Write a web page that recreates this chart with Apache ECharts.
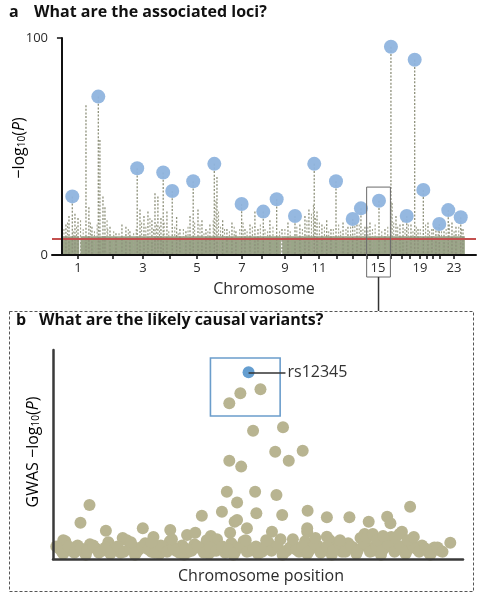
<!DOCTYPE html>
<html>
<head>
<meta charset="utf-8">
<script src="https://cdn.jsdelivr.net/npm/echarts@6/dist/echarts.min.js"></script>
<style>
  html, body { margin: 0; padding: 0; background: #fff; }
  #chart { width: 477px; height: 595px; }
</style>
</head>
<body>
<div id="chart"></div>
<script>
// panel a: chromosome centres along the genome (Mb)
const chrNames = ['1','2','3','4','5','6','7','8','9','10','11','12','13','14','15','16','17','18','19','20','21','22','23']
const chrMid = [121,384,610,814,1017,1168,1356,1507,1680,1801,1937,2072,2193,2298,2381,2479,2562,2622,2698,2751,2796,2849,2954]
const chrLabelled = ['1','3','5','7','9','11','15','19','23']

// lead SNPs (blue circles)
const peakPos = [78,274,567,763,831,989,1148,1354,1517,1618,1756,1901,2065,2191,2253,2389,2479,2598,2658,2723,2843,2911,3005]
const peakLogP = [27,73,40,38,29.5,34,42,23.5,20,25.7,18,42,34,16.6,21.5,25,96,18,90,30,14.3,20.7,17.4]

// other SNP columns above the threshold
const stemPos = [0,30,53,98,121,181,203,226,286,309,324,362,407,452,482,512,
  588,618,648,678,701,723,746,791,864,889,934,965,1025,1055,1085,
  1115,1168,1211,1243,1281,1311,1379,1417,1454,
  1477,1567,1658,1703,1793,1831,1861,1922,1959,1995,2027,
  2118,2155,2223,2283,2321,2434,2487,2517,2547,2570,2630,2683,2758,2788,2818,2879,2939,2969,3022]
const stemLogP = [17,14,18,19,17,69,22,13,53,27,22,13,10,14,13,11,
  21,18,20,16,28.5,27,17,20,17.5,12,11,18,21,16,12,
  14,36,16,12,15,11,12,14,20,
  12,16,12,15,14,18,21,20,14,16,12,
  15,13,14,13,15,12,24,18,14,16,14,12,15,12,13,11,15,13,12]

// low "grass" of sub-peak SNPs
const grassPos = [15,42,85,110,140,160,215,245,265,340,345,390,430,500,540,560,600,632,663,690,712,735,770,805,850,876,915,950,1000,1040,1070,1100,
  1140,1160,1180,1195,1225,1262,1298,1340,1365,1395,1435,1495,1530,1550,1590,1640,1680,1720,1770,1812,1846,1880,1895,1910,1940,1978,2010,2045,
  2085,2100,2140,2175,2207,2240,2268,2305,2340,2360,2410,2455,2500,2530,2585,2610,2645,2670,2700,2740,2770,2800,2835,2860,2895,2920,2955,2990,3010]
const grassLogP = [12,15,11,13,16,12,15,11,14,16,12,11,10,12,10,12,15,13,17,12,14,13,15,11,13,10,12,13,15,14,10,11,
  16,25,20,13,12,11,13,12,15,11,13,14,12,11,13,11,12,11,13,12,16,19,23,17,15,13,11,12,
  14,11,12,13,15,14,12,13,12,14,11,13,15,13,12,14,11,13,12,14,11,12,13,11,12,14,11,13,12]

const threshold = 7.3
const bulkTop = 8.6
const bulkSegments = [[0, 130], [140, 1650], [1660, 3036]]

// panel b: fine-mapping region (relative position, GWAS -log10 P)
const leadSnp = [47.7, 89.3]
const leadName = 'rs12345'
const regionPos = [43,45.7,50.6,48.8,56.1,43,45.9,54.2,57.5,60.9,42.4,44.9,49.3,54.5,41.2,36.3,44.3,47.3,49.6,55.9,62.1,66.8,72.3,77,81.5,82.3,87.1,85.1,
  8.9,6.7,12.9,17,2.5,21.9,28.6,32.7,34.7,43.2,44.9,53.4,62,62,66.8,76,96.9,38.5,40,24.5,
  1.5,3,4.5,6,7.5,9,10.5,12,13.5,15,16.5,18,19.5,21,22.5,24,25.5,27,28.5,30,31.5,33,34.5,36,37.5,39,40.5,42,43.5,45,46.5,48,49.5,51,52.5,54,55.5,57,58.5,60,61.5,63,64.5,66,67.5,69,70.5,72,73.5,75,76.5,78,79.5,81,82.5,84,85.5,87,88.5,90,91.5,93,94.5,
  2.5,8,14,20,26,32,38,44,50,56,62,68,74,80,86,92,
  0.8,2.2,3.8,5.2,6.8,8.3,9.8,11.2,12.8,14.3,15.8,17.3,18.8,20.3,21.8,23.3,24.8,26.3,27.8,29.3,30.8,32.3,33.8,35.3,36.8,38.3,39.8,41.3,42.8,44.3,45.8,47.3,
  48.8,50.3,51.8,53.3,54.8,56.3,57.8,59.3,60.8,62.3,63.8,65.3,66.8,68.3,69.8,71.3,72.8,74.3,75.8,77.3,78.8,80.3,81.8,83.3,84.8,86.3,87.8,89.3,90.8,92.3,93.8,95,
  76.5,78,79,80.5,83.5,84.5,86.5,88,58.5,64,70,52,47,24,29,19]
const regionLogP = [74.5,79.3,81.2,61.4,63,47,44.2,51.3,47,51.8,32.2,27,32.2,30.6,22.6,20.7,17.8,14.7,21.9,21,23.1,20,20,17.8,20.2,17.1,25,13,
  25.8,17.4,13.5,10,9,14.7,13.9,11.5,12.6,12.6,18.7,13,13,14.7,10.7,12,7.8,11,9.5,10.5,
  5,8.5,4,6.5,3.5,7,5,4,8,5.5,3,9,6,4.5,7.5,3.5,6,5,8.5,4,6.5,3.5,7,5,9,4,6.5,3,7.5,5,8.5,4,6,3.5,8,5.5,9.5,4,7,3.5,8.5,5,6.5,4,9,5.5,3.5,7.5,5,10,6,4,8.5,5.5,10.5,6,4,8,5,6.5,3.5,5.5,4,
  2.5,2,2.5,2,2.5,2,2.5,2,2.5,2,2.5,2,2.5,2,2.5,2,
  6,3.5,6,3,5,4,6.5,3,5.5,4,6,3.5,5,3,6,4.5,3,6.5,3.5,5.5,3,5,4,6,3,5.5,4,6,4.5,3,6,3.5,
  5,3,6,4,6.5,3,5.5,4.5,6,3.5,7,3,6,4,7.5,3.5,6,4,7.5,3.5,6.5,4,7,3.5,6,4,6,3.5,5,3,5.5,3.5,
  10,12,9,11,10,12,9,10.5,9.5,10,9,9,9,8,9.5,8]
const highlightBox = [[38.4, 96.2], [55.4, 68.4]]
const zoomRange = [2296, 2475, 31.3]

const font = 'Open Sans'
const ink = '#2a2a2a'

const chart = echarts.init(document.getElementById('chart'), null, { renderer: 'canvas' })

function stemRenderer (stroke, width) {
  return function (params, api) {
    const top = api.coord([api.value(0), api.value(1)])
    const base = api.coord([api.value(0), 0])
    return {
      type: 'line',
      shape: { x1: top[0], y1: top[1], x2: base[0], y2: base[1] },
      style: { stroke: stroke, lineWidth: width, lineDash: [2, 1.6] }
    }
  }
}

const option = {
  animation: false,
  textStyle: { fontFamily: font },
  grid: [
    { left: 52, top: 38, width: 424, height: 217, outerBoundsMode: 'none', containLabel: false },
    { left: 53, top: 350, width: 410, height: 209, outerBoundsMode: 'none', containLabel: false }
  ],
  xAxis: [
    {
      gridIndex: 0, type: 'value', min: -75, max: 3120, z: 5,
      splitLine: { show: false },
      axisLine: { show: true, lineStyle: { color: '#111', width: 2 } },
      axisTick: { show: true, customValues: chrMid, length: 4, lineStyle: { color: '#111', width: 1.5 } },
      axisLabel: {
        show: true, customValues: chrMid.filter((v, i) => chrLabelled.includes(chrNames[i])),
        formatter: v => chrNames[chrMid.indexOf(v)],
        fontSize: 13, color: ink, margin: 7
      }
    },
    {
      gridIndex: 1, type: 'value', min: 0, max: 100, z: 5,
      splitLine: { show: false },
      axisLine: { show: true, lineStyle: { color: '#3a3a3a', width: 2.5 } },
      axisTick: { show: false }, axisLabel: { show: false }
    }
  ],
  yAxis: [
    {
      gridIndex: 0, type: 'value', min: 0, max: 100, interval: 100, z: 5,
      splitLine: { show: false },
      axisLine: { show: true, lineStyle: { color: '#111', width: 2 } },
      axisTick: { show: true, length: 5, lineStyle: { color: '#111', width: 1.5 } },
      axisLabel: { fontSize: 13, color: ink, margin: 4 }
    },
    {
      gridIndex: 1, type: 'value', min: 0, max: 100, z: 5,
      splitLine: { show: false },
      axisLine: { show: true, lineStyle: { color: '#3a3a3a', width: 2.5 } },
      axisTick: { show: false }, axisLabel: { show: false }
    }
  ],
  series: [
    {
      type: 'custom', xAxisIndex: 0, yAxisIndex: 0, z: 2, silent: true,
      data: grassPos.map((p, i) => [p, grassLogP[i]]),
      renderItem: stemRenderer('#a2a48f', 1.1)
    },
    {
      type: 'custom', xAxisIndex: 0, yAxisIndex: 0, z: 2, silent: true,
      data: stemPos.map((p, i) => [p, stemLogP[i]]),
      renderItem: stemRenderer('#8e917b', 1.3)
    },
    {
      type: 'custom', xAxisIndex: 0, yAxisIndex: 0, z: 2, silent: true,
      data: peakPos.map((p, i) => [p, peakLogP[i]]),
      renderItem: stemRenderer('#8e917b', 1.3)
    },
    {
      type: 'scatter', xAxisIndex: 0, yAxisIndex: 0, z: 4, silent: true,
      symbolSize: 14,
      itemStyle: { color: '#8fb4de', opacity: 0.95 },
      data: peakPos.map((p, i) => [p, peakLogP[i]]),
      markArea: {
        silent: true, z: 1,
        itemStyle: { color: '#9aa588' },
        data: bulkSegments.map(s => [{ xAxis: s[0], yAxis: 0 }, { xAxis: s[1], yAxis: bulkTop }])
      },
      markLine: {
        silent: true, symbol: ['none', 'none'], z: 3,
        label: { show: false },
        lineStyle: { color: '#c4504f', width: 2, type: 'solid' },
        data: [{ yAxis: threshold }]
      }
    },
    {
      type: 'scatter', xAxisIndex: 1, yAxisIndex: 1, z: 3, silent: true,
      symbolSize: 12,
      itemStyle: { color: '#b8b491', opacity: 1 },
      data: regionPos.map((p, i) => [p, regionLogP[i]]),
      markArea: {
        silent: true,
        itemStyle: { color: 'rgba(0,0,0,0)', borderColor: '#6b9dcb', borderWidth: 1.6 },
        data: [[{ coord: highlightBox[0] }, { coord: highlightBox[1] }]]
      }
    },
    {
      type: 'scatter', xAxisIndex: 1, yAxisIndex: 1, z: 4, silent: true,
      symbolSize: 12,
      itemStyle: { color: '#3f86c4' },
      data: [leadSnp],
      markLine: {
        silent: true, symbol: ['none', 'none'],
        lineStyle: { color: '#333', width: 1.5, type: 'solid' },
        label: { show: true, position: 'end', formatter: leadName, fontSize: 16, color: '#333', distance: 2, fontFamily: font },
        data: [[{ coord: leadSnp }, { coord: [56.7, leadSnp[1]] }]]
      }
    }
  ]
}

chart.setOption(option)

// zoom box around the chr15 locus, tied to the axis scale
const boxL = chart.convertToPixel({ gridIndex: 0 }, [zoomRange[0], zoomRange[2]])
const boxR = chart.convertToPixel({ gridIndex: 0 }, [zoomRange[1], zoomRange[2]])
const boxBottom = 277
const midX = (boxL[0] + boxR[0]) / 2

const logRich = {
  a: { fontSize: 16, color: ink, fontFamily: font },
  s: { fontSize: 10, color: ink, fontFamily: font, padding: [7, 0, 0, 0] },
  i: { fontSize: 16, color: ink, fontFamily: font, fontStyle: 'italic' }
}
const titleFont = 'bold 16px "Open Sans"'

chart.setOption({
  graphic: [
    { type: 'text', left: 9, top: 4, style: { text: 'a', font: titleFont, fill: '#111' } },
    { type: 'text', left: 34, top: 4, style: { text: 'What are the associated loci?', font: titleFont, fill: '#111' } },
    { type: 'text', left: 16, top: 312, style: { text: 'b', font: titleFont, fill: '#111' } },
    { type: 'text', left: 39, top: 312, style: { text: 'What are the likely causal variants?', font: titleFont, fill: '#111' } },
    {
      type: 'text', x: 19, y: 148, rotation: Math.PI / 2,
      style: { text: '{a|−log}{s|10}{a|(}{i|P}{a|)}', rich: logRich, align: 'center', verticalAlign: 'middle' }
    },
    {
      type: 'text', x: 33, y: 452, rotation: Math.PI / 2,
      style: { text: '{a|GWAS −log}{s|10}{a|(}{i|P}{a|)}', rich: logRich, align: 'center', verticalAlign: 'middle' }
    },
    { type: 'text', x: 264, y: 289, style: { text: 'Chromosome', font: '16px "Open Sans"', fill: ink, align: 'center', verticalAlign: 'middle' } },
    { type: 'text', x: 261, y: 576, style: { text: 'Chromosome position', font: '16px "Open Sans"', fill: ink, align: 'center', verticalAlign: 'middle' } },
    {
      type: 'rect', z: 10,
      shape: { x: boxL[0], y: boxL[1], width: boxR[0] - boxL[0], height: boxBottom - boxL[1] },
      style: { fill: 'none', stroke: '#6a6a6a', lineWidth: 1 }
    },
    {
      type: 'line', z: 10,
      shape: { x1: midX, y1: boxBottom, x2: midX, y2: 311 },
      style: { stroke: '#333', lineWidth: 1.5 }
    },
    {
      type: 'rect', z: 10,
      shape: { x: 9.5, y: 311.5, width: 464, height: 280 },
      style: { fill: 'none', stroke: '#555', lineWidth: 1, lineDash: [3, 2] }
    }
  ]
})
</script>
</body>
</html>
